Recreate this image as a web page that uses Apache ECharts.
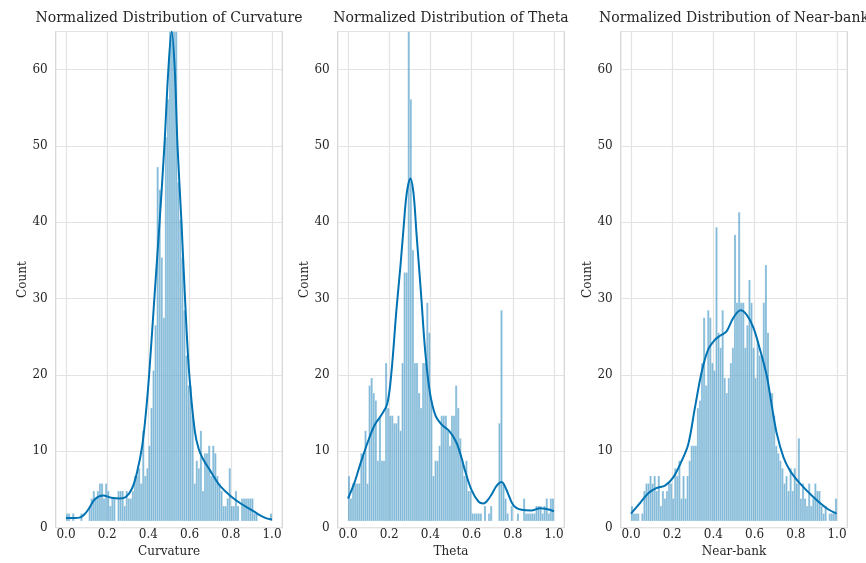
<!DOCTYPE html>
<html>
<head>
<meta charset="utf-8">
<script src="https://cdn.jsdelivr.net/npm/echarts@6/dist/echarts.min.js"></script>
<style>html,body{margin:0;padding:0;background:#fff}#c{width:866px;height:563px}</style>
</head>
<body>
<div id="c"></div>
<script>
// ---------- DATA ----------
const panelTitles = ['Normalized Distribution of Curvature', 'Normalized Distribution of Theta', 'Normalized Distribution of Near-bank'];
const xNames = ['Curvature', 'Theta', 'Near-bank'];
const yName = 'Count';
const xTicks = [0, 0.2, 0.4, 0.6, 0.8, 1.0];
const yTicks = [0, 10, 20, 30, 40, 50, 60];
const binCount = 100;   // bins of width 0.01 over [0, 1]

const curvatureCounts = [
  1,1,0,1,0,0,0,1,0,0, 0,2,3,4,3,4,5,5,3,5, 4,2,3,3,0,4,4,4,2,4,
  3,3,4,6,6,7,5,12,6,7, 10,15,20,26,47,44,35,27,51,56, 65,65,65,65,45,40,35,28,22,18,
  18,14,5,8,7,12,4,9,9,10, 6,10,9,6,5,4,2,2,3,7, 2,2,4,2,0,3,3,3,3,3,
  3,1,1,0,0,0,0,0,0,1
];
const thetaCounts = [
  6,3,5,5,5,5,9,9,12,5, 18,19,17,16,8,14,8,8,21,15, 14,14,13,13,14,12,21,33,33,65,
  56,36,21,21,17,15,21,21,29,25, 16,6,8,8,10,14,14,14,12,10, 14,14,18,15,11,8,6,8,4,4,
  1,1,1,1,1,0,2,0,1,2, 0,0,0,13,28,5,3,1,0,2, 0,0,1,0,0,3,1,1,1,1,
  1,2,2,2,1,2,3,1,3,3
];
const nearBankCounts = [
  2,1,1,1,0,1,4,5,5,6, 5,6,4,6,2,4,3,4,5,5, 3,7,6,8,3,6,3,6,8,10,
  10,10,15,16,21,27,18,28,27,21, 20,39,25,23,28,19,17,19,21,23, 38,29,41,29,29,23,26,32,29,23,
  19,24,22,22,29,34,25,17,17,14, 10,9,8,7,5,6,4,7,4,7, 5,11,3,5,3,2,5,2,3,5,
  4,4,2,1,2,0,1,1,1,3
];

// KDE curves: [x, density-scaled count]
const curvatureKde = [
  [0,0.4],[0.04,0.4],[0.07,0.5],[0.09,0.9],[0.11,1.6],[0.14,2.9],[0.18,3.4],[0.22,3.1],[0.26,3.0],[0.29,3.2],
  [0.32,4.3],[0.345,6.5],[0.37,10],[0.39,15],[0.405,20],[0.43,30],[0.455,40],[0.478,50],[0.497,60],[0.513,65],
  [0.528,60],[0.541,50],[0.56,40],[0.577,30],[0.597,20],[0.625,12],[0.645,9.5],[0.67,8],[0.7,6.7],[0.72,5.8],
  [0.75,4.6],[0.8,3.3],[0.85,2.3],[0.9,1.5],[0.94,0.8],[0.97,0.4],[1.0,0.2]
];
const thetaKde = [
  [0,3],[0.03,5],[0.06,7.6],[0.1,10.8],[0.13,12.8],[0.16,14],[0.19,15.5],[0.21,19.5],[0.235,28],[0.255,34],
  [0.27,39],[0.285,43.5],[0.303,45.5],[0.318,43.5],[0.333,38],[0.355,30],[0.375,22.5],[0.398,17],[0.425,14],[0.455,12.8],
  [0.49,12],[0.525,10.5],[0.55,8.5],[0.568,6.7],[0.6,4.1],[0.633,2.6],[0.657,2.35],[0.689,3.2],[0.722,4.7],[0.746,5.2],
  [0.77,4.1],[0.803,2.1],[0.843,1.5],[0.89,1.4],[0.932,1.7],[0.964,1.6],[1.0,1.3]
];
const nearBankKde = [
  [0,1],[0.044,2.4],[0.084,3.7],[0.125,4.4],[0.165,4.7],[0.205,5.8],[0.246,8],[0.278,10.2],[0.31,15],[0.343,19.8],
  [0.375,22.8],[0.408,24.1],[0.432,24.6],[0.464,25.2],[0.497,27],[0.532,28],[0.561,27.4],[0.594,25.7],[0.626,22.8],[0.659,19.3],
  [0.683,15.4],[0.707,11.7],[0.74,8.5],[0.772,6.7],[0.82,5],[0.885,3.2],[0.95,1.7],[0.998,1.0]
];

// ---------- LAYOUT / STYLE ----------
const FONT = "'DejaVu Serif', 'Liberation Serif', serif";
const TEXT = '#262626';
const GRIDC = '#e3e3e3';
const FRAME = '#d4d4d4';
const BAR_FILL = 'rgba(1,115,178,0.5)';
const BAR_EDGE = 'rgba(255,255,255,0.55)';
const LINE = '#0173b2';
const W = 866;
const frameLefts = [55.7, 337.7, 620.7];
const frameW = 226.6, frameTop = 31.5, frameH = 496.2;
const innerOff = frameW * 0.05 / 1.1, innerW = frameW / 1.1;
const Y_MAX = 65;

const allCounts = [curvatureCounts, thetaCounts, nearBankCounts];
const allKde = [curvatureKde, thetaKde, nearBankKde];

const grids = [], xAxes = [], yAxes = [], series = [], graphics = [];
for (let p = 0; p < 3; p++) {
  const L = frameLefts[p];
  // outer grid: frame + horizontal gridlines + y labels
  grids.push({ left: L, top: frameTop, width: frameW, height: frameH, show: true, borderColor: FRAME, borderWidth: 1.2, backgroundColor: 'transparent' });
  // inner grid: data range [0,1]
  grids.push({ left: L + innerOff, top: frameTop, width: innerW, height: frameH, show: false });
  const go = 2 * p, gi = 2 * p + 1;
  xAxes.push({ gridIndex: go, type: 'value', min: -0.05, max: 1.05, show: false });
  yAxes.push({
    gridIndex: go, type: 'value', min: 0, max: Y_MAX, interval: 10,
    name: yName, nameLocation: 'middle', nameGap: 27,
    nameTextStyle: { fontFamily: FONT, fontSize: 12, color: TEXT },
    axisLine: { show: false }, axisTick: { show: false },
    axisLabel: { fontFamily: FONT, fontSize: 12, color: TEXT, margin: 8,
      formatter: v => (yTicks.indexOf(v) >= 0 ? String(v) : '') },
    splitLine: { show: true, lineStyle: { color: GRIDC, width: 1.2 } }
  });
  xAxes.push({
    gridIndex: gi, type: 'value', min: 0, max: 1, interval: 0.2,
    name: xNames[p], nameLocation: 'middle', nameGap: 24,
    nameTextStyle: { fontFamily: FONT, fontSize: 12, color: TEXT },
    axisLine: { show: false }, axisTick: { show: false },
    axisLabel: { fontFamily: FONT, fontSize: 12, color: TEXT, margin: 8,
      formatter: v => (xTicks.some(t => Math.abs(t - v) < 1e-9) ? v.toFixed(1) : '') },
    splitLine: { show: true, lineStyle: { color: GRIDC, width: 1.2 } }
  });
  yAxes.push({ gridIndex: gi, type: 'value', min: 0, max: Y_MAX, interval: 10, show: false, splitLine: { show: false } });

  const counts = allCounts[p];
  const barData = counts.map((c, i) => [i / binCount, (i + 1) / binCount, c]);
  series.push({
    type: 'custom', xAxisIndex: 2 * p + 1, yAxisIndex: 2 * p + 1, clip: true,
    data: barData,
    renderItem: (params, api) => {
      const a = api.coord([api.value(0), api.value(2)]);
      const b = api.coord([api.value(1), 0]);
      return { type: 'rect', shape: { x: a[0], y: a[1], width: b[0] - a[0], height: b[1] - a[1] },
        style: { fill: BAR_FILL, stroke: BAR_EDGE, lineWidth: 0.5 } };
    },
    z: 2
  });
  series.push({
    type: 'line', xAxisIndex: 2 * p + 1, yAxisIndex: 2 * p + 1, data: allKde[p],
    smooth: 0.35, symbol: 'none', clip: true,
    lineStyle: { color: LINE, width: 2 }, z: 3
  });
  graphics.push({
    type: 'text', x: L + frameW / 2, y: 18, silent: true,
    style: { text: panelTitles[p], fontFamily: FONT, fontSize: 14, fill: TEXT, textAlign: 'center', textVerticalAlign: 'middle' }
  });
}

const chart = echarts.init(document.getElementById('c'), null, { renderer: 'canvas' });
chart.setOption({
  backgroundColor: '#ffffff',
  animation: false,
  grid: grids, xAxis: xAxes, yAxis: yAxes, series: series,
  graphic: graphics
});
</script>
</body>
</html>
